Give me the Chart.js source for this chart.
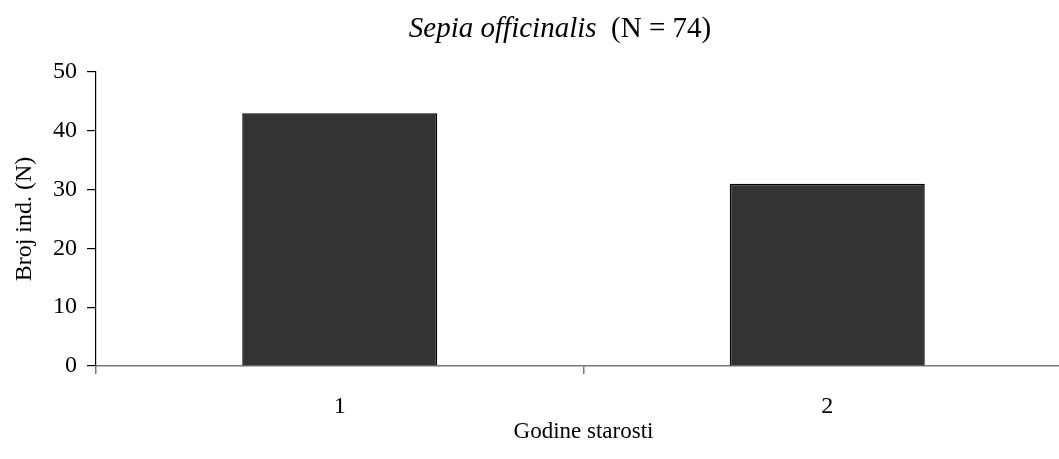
<!DOCTYPE html>
<html>
<head>
<meta charset="utf-8">
<title>Sepia officinalis</title>
<script src="https://cdn.jsdelivr.net/npm/chart.js@4"></script>
<style>
    html, body { margin: 0; padding: 0; background: #fff; overflow: hidden; }
    #wrap { position: relative; width: 1071px; height: 459px; }
</style>
</head>
<body>
<div id="wrap"><canvas id="ageChart"></canvas></div>
<script>
// --- data ---
const ageClasses = ['1', '2'];
const counts = [43, 31];
const yTicks = [0, 10, 20, 30, 40, 50];

const serif = "'Liberation Serif', 'Times New Roman', serif";

// title with italic species name
const speciesTitle = {
    id: 'speciesTitle',
    afterDraw(chart) {
        const ctx = chart.ctx;
        const italicPart = 'Sepia officinalis';
        const plainPart = '  (N = 74)';
        ctx.save();
        ctx.fillStyle = '#000';
        ctx.textBaseline = 'middle';
        ctx.font = 'italic 29px ' + serif;
        const w1 = ctx.measureText(italicPart).width;
        ctx.font = '29px ' + serif;
        const w2 = ctx.measureText(plainPart).width;
        const x = 560 - (w1 + w2) / 2;
        const y = 29;
        ctx.font = 'italic 29px ' + serif;
        ctx.fillText(italicPart, x, y);
        ctx.font = '29px ' + serif;
        ctx.fillText(plainPart, x + w1, y);
        ctx.restore();
    }
};

const ctx = document.getElementById('ageChart').getContext('2d');
new Chart(ctx, {
    type: 'bar',
    data: {
        labels: ageClasses,
        datasets: [{
            data: counts,
            backgroundColor: '#333333',
            borderColor: '#000000',
            borderWidth: 1.5,
            barPercentage: 0.4,
            categoryPercentage: 1.0
        }]
    },
    options: {
        responsive: true,
        maintainAspectRatio: false,
        animation: false,
        layout: { padding: { top: 72, left: 0, right: 0, bottom: 0 } },
        plugins: {
            legend: { display: false },
            tooltip: { enabled: false }
        },
        scales: {
            x: {
                offset: true,
                grid: { offset: true, drawOnChartArea: false, tickLength: 8, color: '#777', lineWidth: 1.5 },
                border: { color: '#777', width: 1.5 },
                ticks: { color: '#000', padding: 18, font: { family: serif, size: 24 } },
                title: {
                    display: true,
                    text: 'Godine starosti',
                    color: '#000',
                    font: { family: serif, size: 23 },
                    padding: { top: 0, bottom: 13 }
                },
                afterFit: (scale) => { scale.height = 93; }
            },
            y: {
                min: 0,
                max: 50,
                afterBuildTicks: (scale) => { scale.ticks = yTicks.map(v => ({ value: v })); },
                grid: { drawOnChartArea: false, tickLength: 9, color: '#000', lineWidth: 1.2 },
                border: { color: '#000', width: 1.2 },
                ticks: { color: '#000', padding: 10, font: { family: serif, size: 24 } },
                title: {
                    display: true,
                    text: 'Broj ind. (N)',
                    color: '#000',
                    font: { family: serif, size: 24 },
                    padding: { top: 10, bottom: 0 }
                },
                afterFit: (scale) => { scale.width = 96; }
            }
        }
    },
    plugins: [speciesTitle]
});
</script>
</body>
</html>
